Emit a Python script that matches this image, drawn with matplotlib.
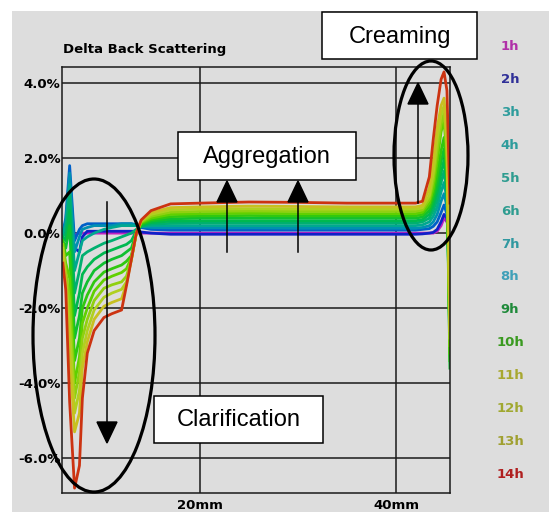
"""Turbiscan delta backscattering profiles (scans 1h-14h) with the three
destabilisation zones marked: clarification, aggregation and creaming.

Saves out.png (549x512 px).
"""
import matplotlib
matplotlib.use("Agg")
import matplotlib.pyplot as plt
from matplotlib.patches import Ellipse, Polygon, Rectangle

OUT = "out.png"
W, H = 549, 512  # px, dpi 100

# height in the measuring cell (mm), shared by all scans
height_mm = [6.0, 6.3, 6.7, 7.2, 7.7, 8.0, 8.5, 9.2, 10.2, 11.0, 12.0, 12.5, 13.0, 13.5,
             14.0, 15.0, 17.0, 20.0, 25.0, 30.0, 35.0, 40.0, 42.0, 42.7, 43.4, 43.8,
             44.2, 44.6, 44.9, 45.2, 45.5]

# delta backscattering (%), one list per scan
dbs_1h = [0, 0, 0, -0.05, 0, 0, 0, 0, 0, 0, 0, 0, 0, 0, 0, 0, 0, 0, 0, 0, 0, 0, 0, 0,
          0, 0, 0.05, 0.2, 0.4, 0.3, 0.0]
dbs_2h = [0.0, 0.1, 0.3, -0.4, -0.5, -0.1, 0.05, 0.05, 0.05, 0.05, 0.05, 0.05, 0.05, 0.05,
          0.03, 0.0, -0.03, -0.03, -0.03, -0.03, -0.03, -0.03, -0.03, -0.02, 0.0, 0.02,
          0.1, 0.3, 0.5, 0.4, -0.5]
dbs_3h = [0.0, 0.4, 1.8, -0.2, 0.1, 0.2, 0.25, 0.25, 0.25, 0.25, 0.25, 0.25, 0.25, 0.22,
          0.15, 0.1, 0.08, 0.08, 0.08, 0.08, 0.08, 0.08, 0.08, 0.1, 0.12, 0.18, 0.3, 0.55,
          0.75, 0.5, -1.0]
dbs_4h = [0.0, 0.3, 1.6, -0.5, -0.1, 0.1, 0.15, 0.2, 0.2, 0.2, 0.25, 0.25, 0.25, 0.22,
          0.18, 0.15, 0.14, 0.14, 0.14, 0.13, 0.13, 0.13, 0.13, 0.15, 0.2, 0.3, 0.5, 0.85,
          1.05, 0.7, -1.5]
dbs_5h = [0.0, 0.2, 1.3, -1.0, -0.5, -0.2, -0.1, 0.0, 0.1, 0.15, 0.2, 0.2, 0.2, 0.2,
          0.18, 0.2, 0.2, 0.2, 0.2, 0.2, 0.2, 0.2, 0.2, 0.22, 0.3, 0.45, 0.7, 1.1, 1.35,
          0.9, -2.0]
dbs_6h = [-0.1, 0.0, 1.0, -1.6, -1.0, -0.6, -0.5, -0.4, -0.27, -0.2, -0.1, -0.05, 0.0, 0.1,
          0.18, 0.24, 0.26, 0.27, 0.27, 0.27, 0.27, 0.27, 0.27, 0.3, 0.4, 0.6, 0.9, 1.35,
          1.65, 1.1, -2.5]
dbs_7h = [-0.1, -0.2, 0.6, -2.2, -1.6, -1.1, -0.9, -0.7, -0.53, -0.45, -0.35, -0.3, -0.2,
          0.05, 0.2, 0.28, 0.32, 0.33, 0.33, 0.33, 0.33, 0.33, 0.33, 0.36, 0.5, 0.75, 1.1,
          1.6, 1.95, 1.3, -3.0]
dbs_8h = [-0.2, -0.4, 0.2, -2.8, -2.2, -1.6, -1.3, -1.0, -0.8, -0.7, -0.6, -0.5, -0.4, 0.0,
          0.22, 0.32, 0.38, 0.4, 0.4, 0.4, 0.4, 0.4, 0.4, 0.43, 0.6, 0.9, 1.3, 1.9, 2.25,
          1.5, -3.6]
dbs_9h = [-0.2, -0.6, -0.5, -3.4, -2.8, -2.0, -1.65, -1.3, -1.04, -0.95, -0.85, -0.75, -0.6,
          0.0, 0.25, 0.36, 0.44, 0.46, 0.47, 0.46, 0.46, 0.46, 0.46, 0.5, 0.7, 1.05, 1.55,
          2.2, 2.55, 1.7, -3.4]
dbs_10h = [-0.3, -0.8, -1.2, -4.0, -3.3, -2.4, -2.0, -1.55, -1.25, -1.15, -1.05, -0.95,
           -0.65, 0.0, 0.28, 0.4, 0.5, 0.52, 0.53, 0.52, 0.52, 0.52, 0.52, 0.56, 0.8, 1.2,
           1.9, 2.7, 3.0, 2.0, -3.2]
dbs_11h = [-0.3, -1.0, -1.8, -4.4, -3.7, -2.8, -2.3, -1.8, -1.47, -1.38, -1.3, -1.15, -0.7,
           0.0, 0.3, 0.45, 0.56, 0.58, 0.59, 0.58, 0.58, 0.58, 0.58, 0.62, 0.9, 1.4, 2.2,
           2.9, 3.2, 2.2, -3.0]
dbs_12h = [-0.4, -1.2, -2.5, -4.8, -4.2, -3.2, -2.6, -2.05, -1.71, -1.6, -1.5, -1.3, -0.7,
           0.0, 0.32, 0.5, 0.62, 0.64, 0.65, 0.64, 0.64, 0.64, 0.64, 0.68, 1.0, 1.6, 2.5,
           3.15, 3.4, 2.4, -2.8]
dbs_13h = [-0.5, -1.3, -3.2, -5.3, -4.8, -3.6, -2.9, -2.3, -1.95, -1.85, -1.75, -1.35, -0.7,
           0.0, 0.33, 0.55, 0.68, 0.7, 0.72, 0.71, 0.7, 0.7, 0.7, 0.74, 1.2, 1.9, 2.8, 3.4,
           3.6, 2.6, -2.6]
dbs_14h = [-0.8, -1.5, -4.5, -6.8, -6.2, -4.4, -3.2, -2.6, -2.25, -2.15, -2.05, -1.4, -0.7,
           0.0, 0.35, 0.6, 0.78, 0.8, 0.83, 0.82, 0.8, 0.8, 0.8, 0.85, 1.5, 2.5, 3.4, 4.1,
           4.3, 3.8, 0.8]

hours = ["1h", "2h", "3h", "4h", "5h", "6h", "7h", "8h", "9h", "10h", "11h", "12h", "13h",
         "14h"]
y_ticks = [-6, -4, -2, 0, 2, 4]
x_ticks = [20, 40]

LINE_COLORS = ["#c020c0", "#1020c8", "#0060c8", "#0090b0", "#00a890", "#00b070",
               "#00b850", "#10c030", "#30c810", "#60d000", "#90d010", "#b0d020",
               "#c8c020", "#cc3311"]
LABEL_COLORS = ["#b030a8", "#303098", "#2e9c9c", "#2e9c9c", "#2e9c90", "#2e9c90",
                "#3098a0", "#40a0b8", "#1f8a3a", "#3a9a20", "#a8a830", "#a0a830",
                "#a0a030", "#b02020"]
GRAY = "#dddddd"
PIX = dict(family="DejaVu Sans", fontweight="bold", fontsize=9.5)


def box(ov, x0, y0, x1, y1, text):
    ov.add_patch(Rectangle((x0, y0), x1 - x0, y1 - y0, facecolor="white",
                           edgecolor="black", lw=1.1))
    ov.text((x0 + x1) / 2, (y0 + y1) / 2 + 1, text, ha="center", va="center",
            family="Liberation Sans", fontsize=17)


def arrow(ov, x, y_tail, y_tip, head=21, half=10):
    base = y_tip + head if y_tip < y_tail else y_tip - head
    ov.plot([x, x], [y_tail, base], color="black", lw=1.1)
    ov.add_patch(Polygon([(x - half, base), (x + half, base), (x, y_tip)],
                         closed=True, color="black"))


def main():
    series = [dbs_1h, dbs_2h, dbs_3h, dbs_4h, dbs_5h, dbs_6h, dbs_7h, dbs_8h, dbs_9h,
              dbs_10h, dbs_11h, dbs_12h, dbs_13h, dbs_14h]

    fig = plt.figure(figsize=(W / 100, H / 100), dpi=100, facecolor="white")
    # gray panel behind everything
    fig.add_artist(Rectangle((12 / W, 0), 1, 1 - 11 / H, transform=fig.transFigure,
                             facecolor=GRAY, edgecolor="none", zorder=-1))

    ax = fig.add_axes([62 / W, 1 - 493 / H, (450 - 62) / W, (493 - 67) / H])
    ax.set_facecolor(GRAY)
    for ys, c in zip(series, LINE_COLORS):
        ax.plot(height_mm, ys, color=c, lw=2.0, solid_joinstyle="round")
    ax.set_xlim(5.92, 45.51)
    ax.set_ylim(-6.93, 4.43)
    ax.set_yticks(y_ticks)
    ax.set_yticklabels([f"{v:.1f}%" for v in y_ticks], **PIX)
    ax.set_xticks(x_ticks)
    ax.set_xticklabels([f"{v}mm" for v in x_ticks], **PIX)
    ax.tick_params(axis="y", length=0, pad=1)
    ax.tick_params(axis="x", length=0, pad=4)
    ax.grid(True, color="#1a1a1a", lw=1.1)
    ax.set_axisbelow(True)
    for s in ax.spines.values():
        s.set_color("#1a1a1a")
        s.set_linewidth(1.1)

    # overlay in pixel coordinates for the title, legend and annotations
    ov = fig.add_axes([0, 0, 1, 1])
    ov.set_xlim(0, W)
    ov.set_ylim(H, 0)
    ov.axis("off")
    ov.patch.set_alpha(0)

    ov.text(63, 50, "Delta Back Scattering", ha="left", va="center", **PIX)
    for i, (lab, c) in enumerate(zip(hours, LABEL_COLORS)):
        ov.text(510, 47 + i * 32.85, lab, ha="center", va="center", color=c, **PIX)

    ov.add_patch(Ellipse((94, 335.5), 122, 313, fill=False, edgecolor="black", lw=2.3))
    ov.add_patch(Ellipse((431, 155.5), 74, 189, fill=False, edgecolor="black", lw=2.3))

    arrow(ov, 107, 202, 443)
    arrow(ov, 227, 252, 181)
    arrow(ov, 298, 252, 181)
    arrow(ov, 418, 203, 83)

    box(ov, 322, 12, 477, 59, "Creaming")
    box(ov, 178, 132, 356, 180, "Aggregation")
    box(ov, 154, 396, 323, 443, "Clarification")

    fig.savefig(OUT, dpi=100, facecolor="white")
    plt.close(fig)


if __name__ == "__main__":
    main()
